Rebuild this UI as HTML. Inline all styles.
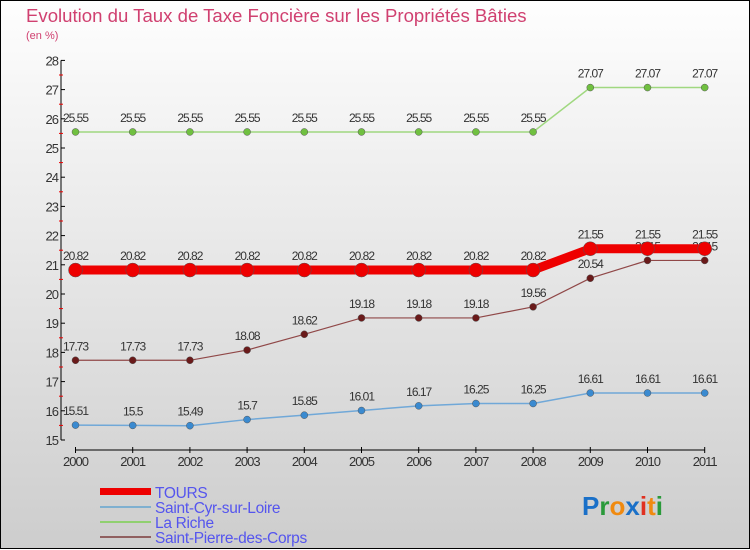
<!DOCTYPE html>
<html><head><meta charset="utf-8"><style>
body{margin:0;width:750px;height:550px;overflow:hidden}
svg{display:block;font-family:"Liberation Sans",sans-serif}
</style></head><body>
<svg id="c" width="750" height="550">
<defs><linearGradient id="bg" x1="0" y1="0" x2="0" y2="1"><stop offset="0" stop-color="#fefefe"/><stop offset="1" stop-color="#cdcdcd"/></linearGradient></defs>
<rect x="0.5" y="0.5" width="749" height="548" fill="url(#bg)" stroke="#000"/>
<text x="26" y="22" font-size="18.6" fill="#d04070">Evolution du Taux de Taxe Foncière sur les Propriétés Bâties</text>
<text x="26" y="39" font-size="11" fill="#d04070">(en %)</text>
<g id="axes"></g><g id="series"></g>
<g>
<rect x="100" y="488" width="51" height="7" fill="#e00"/>
<line x1="100" y1="507" x2="151" y2="507" stroke="#7fb0d0" stroke-width="2"/>
<line x1="100" y1="522" x2="151" y2="522" stroke="#90d070" stroke-width="2"/>
<line x1="100" y1="537" x2="151" y2="537" stroke="#906060" stroke-width="2"/>
<g font-size="15.5" fill="#5555ee" letter-spacing="-0.3">
<text x="155" y="498">TOURS</text>
<text x="155" y="513">Saint-Cyr-sur-Loire</text>
<text x="155" y="528">La Riche</text>
<text x="155" y="543">Saint-Pierre-des-Corps</text>
</g></g>
<text x="582" y="515" font-size="26" font-weight="bold"><tspan fill="#1a70c8">P</tspan><tspan fill="#2a9a3a">r</tspan><tspan fill="#f08a10">o</tspan><tspan fill="#1a70c8">x</tspan><tspan fill="#e03020">i</tspan><tspan fill="#f08a10">t</tspan><tspan fill="#2a9a3a">i</tspan></text>
</svg>
<script>
const years=[2000,2001,2002,2003,2004,2005,2006,2007,2008,2009,2010,2011];
const yTicks=[15,16,17,18,19,20,21,22,23,24,25,26,27,28];
const tours=[20.82,20.82,20.82,20.82,20.82,20.82,20.82,20.82,20.82,21.55,21.55,21.55];
const stcyr=[15.51,15.5,15.49,15.7,15.85,16.01,16.17,16.25,16.25,16.61,16.61,16.61];
const lariche=[25.55,25.55,25.55,25.55,25.55,25.55,25.55,25.55,25.55,27.07,27.07,27.07];
const stpierre=[17.73,17.73,17.73,18.08,18.62,19.18,19.18,19.18,19.56,20.54,21.15,21.15];
const NS="http://www.w3.org/2000/svg";
const X=i=>75.5+i*57.2, Y=v=>440-(v-15)*29.2;
function mk(p,t,a){const e=document.createElementNS(NS,t);for(const k in a)e.setAttribute(k,a[k]);p.appendChild(e);return e;}
const ax=document.getElementById('axes');
let l=mk(ax,'line',{x1:61,y1:Y(28),x2:61,y2:Y(15),stroke:'#000'});


l=mk(ax,'line',{x1:X(0),y1:450,x2:X(11),y2:450,stroke:'#000'});


yTicks.forEach(v=>{
 mk(ax,'line',{x1:61,y1:Y(v),x2:65,y2:Y(v),stroke:'#000'});
 if(v<28) mk(ax,'line',{x1:59,y1:Y(v+0.5),x2:63,y2:Y(v+0.5),stroke:'#e00'});
 const t=mk(ax,'text',{x:58,y:Y(v)+5,'font-size':13,fill:'#333','text-anchor':'end','letter-spacing':'-1'});
 t.textContent=v;
 
 
});
years.forEach((y,i)=>{
 mk(ax,'line',{x1:X(i),y1:447,x2:X(i),y2:453,stroke:'#000'});
 const t=mk(ax,'text',{x:X(i),y:466,'font-size':13,fill:'#333','text-anchor':'middle','letter-spacing':'-1'});
 t.textContent=y;
 
 
});
const sg=document.getElementById('series');
function draw(name,vals,col,dot,w,r){
 const g=mk(sg,'g',{});
 
 
 mk(g,'polyline',{points:vals.map((v,i)=>X(i)+','+Y(v)).join(' '),fill:'none',stroke:col,'stroke-width':w});
 vals.forEach((v,i)=>{
  const c=mk(g,'circle',{cx:X(i),cy:Y(v),r:r,fill:dot,stroke:'#555','stroke-width':0.5});
  
  
  const t=mk(g,'text',{x:X(i),y:Y(v)-10,'font-size':12,fill:'#333','text-anchor':'middle','letter-spacing':'-1'});
  t.textContent=v;
  
  
 });
}
draw('la-riche',lariche,'#a0d880','#70c040',1.5,3.5);
draw('saint-pierre',stpierre,'#904848','#6a1a1a',1.2,3.5);
draw('saint-cyr',stcyr,'#70a8d8','#3a8ad0',1.5,3.5);
draw('tours',tours,'#ee0000','#ee0000',9,7);
</script>
</body></html>
